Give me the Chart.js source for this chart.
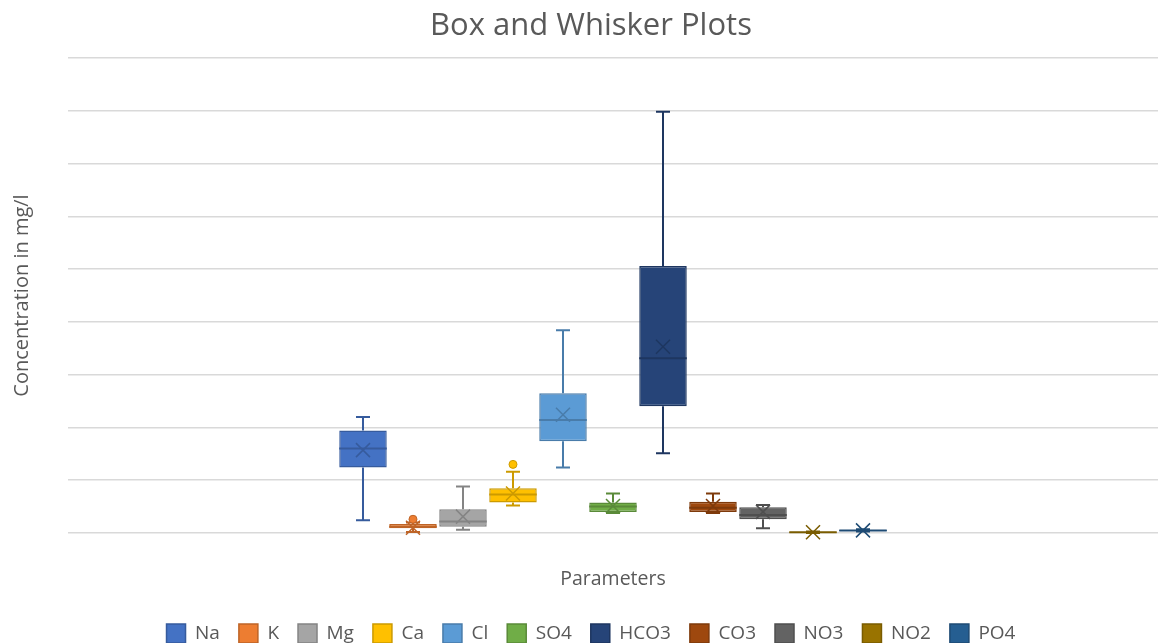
<!DOCTYPE html>
<html>
<head>
<meta charset="utf-8">
<script src="https://cdn.jsdelivr.net/npm/chart.js@4"></script>
<style>
  html, body { margin: 0; padding: 0; background: #ffffff; }
  #wrap { width: 1158px; height: 643px; }
</style>
</head>
<body>
<div id="wrap"><canvas id="c"></canvas></div>
<script>
// Water quality parameters (mg/l): five-number summary, mean and outliers
const parameters = ['Na', 'K', 'Mg', 'Ca', 'Cl', 'SO4', 'HCO3', 'CO3', 'NO3', 'NO2', 'PO4'];
const minimum   = [12,   1,   3,    26,   62,    19,   75.5,  19,   4.5,  0,    1.5];
const quartile1 = [62,   4.5, 6,    29,   87,    20,   120,   20,   13,   0.3,  2];
const median    = [80,   6,   11,   36.5, 107,   25,   165.5, 24,   17,   0.6,  2.3];
const quartile3 = [97,   8.5, 22.5, 42.5, 132.5, 29,   253,   29.5, 24.5, 1,    2.8];
const maximum   = [110,  10,  44,   58,   192,   37.5, 399,   37.5, 26.5, 1.5,  3.5];
const mean      = [78.5, 5,   15.5, 37.5, 112,   25.5, 176.5, 25.5, 20,   0.8,  2.5];
const outliers  = [[],   [13], [],  [65], [],    [],   [],    [],   [],   [],   []];

// Series colours (fill) and their darker line colours
const fillColors = ['#4472C4', '#ED7D31', '#A5A5A5', '#FFC000', '#5B9BD5', '#70AD47',
                    '#264478', '#9E480E', '#636363', '#997300', '#255E91'];
const lineColors = ['#365B9D', '#BE6427', '#848484', '#CC9A00', '#497CAA', '#5A8A39',
                    '#1E3660', '#7E3A0B', '#4F4F4F', '#7A5C00', '#1E4B74'];

const FONT = "'Open Sans', 'DejaVu Sans', sans-serif";
const TEXT = '#595959';

// Whiskers, caps, median line, mean cross and outlier dots drawn over the IQR bars
const boxWhiskerPlugin = {
  id: 'boxWhisker',
  afterDatasetsDraw(chart) {
    const ctx = chart.ctx;
    const ys = chart.scales.y;
    chart.data.datasets.forEach((ds, i) => {
      if (!chart.isDatasetVisible(i)) return;
      const bar = chart.getDatasetMeta(i).data[0];
      const x = bar.x;
      const half = bar.width / 2;
      const cap = 7;
      const yMin = ys.getPixelForValue(minimum[i]);
      const yQ1 = ys.getPixelForValue(quartile1[i]);
      const yMed = ys.getPixelForValue(median[i]);
      const yQ3 = ys.getPixelForValue(quartile3[i]);
      const yMax = ys.getPixelForValue(maximum[i]);
      const yMean = ys.getPixelForValue(mean[i]);
      ctx.save();
      ctx.strokeStyle = lineColors[i];
      ctx.lineWidth = 2;
      ctx.lineCap = 'butt';
      ctx.beginPath();
      // upper whisker + cap
      ctx.moveTo(x, yQ3); ctx.lineTo(x, yMax);
      ctx.moveTo(x - cap, yMax); ctx.lineTo(x + cap, yMax);
      // lower whisker + cap
      ctx.moveTo(x, yQ1); ctx.lineTo(x, yMin);
      ctx.moveTo(x - cap, yMin); ctx.lineTo(x + cap, yMin);
      // median
      ctx.moveTo(x - half, yMed); ctx.lineTo(x + half, yMed);
      ctx.stroke();
      // mean marker
      ctx.lineWidth = 1.5;
      ctx.beginPath();
      ctx.moveTo(x - 7, yMean - 7); ctx.lineTo(x + 7, yMean + 7);
      ctx.moveTo(x - 7, yMean + 7); ctx.lineTo(x + 7, yMean - 7);
      ctx.stroke();
      // outliers
      ctx.fillStyle = fillColors[i];
      outliers[i].forEach(v => {
        const yo = ys.getPixelForValue(v);
        ctx.beginPath();
        ctx.arc(x, yo, 4, 0, Math.PI * 2);
        ctx.fill();
        ctx.lineWidth = 1;
        ctx.stroke();
      });
      ctx.restore();
    });
  }
};

const datasets = parameters.map((name, i) => ({
  label: name,
  data: [[quartile1[i], quartile3[i]]],
  backgroundColor: fillColors[i],
  borderColor: lineColors[i],
  borderWidth: 1.5,
  borderSkipped: false,
  categoryPercentage: 0.5046,
  barPercentage: 0.95
}));

new Chart(document.getElementById('c'), {
  type: 'bar',
  data: { labels: [''], datasets },
  plugins: [boxWhiskerPlugin],
  options: {
    responsive: true,
    maintainAspectRatio: false,
    animation: false,
    layout: { padding: { left: 24, right: 0, top: 0, bottom: 0 } },
    plugins: {
      tooltip: { enabled: false },
      title: {
        display: true,
        text: 'Box and Whisker Plots',
        color: TEXT,
        font: { family: FONT, size: 31, weight: 'normal' },
        padding: { top: 8, bottom: 12.8 }
      },
      legend: {
        position: 'bottom',
        maxHeight: 38,
        labels: {
          color: TEXT,
          font: { family: FONT, size: 19 },
          boxWidth: 19,
          boxHeight: 19,
          padding: 19
        }
      }
    },
    scales: {
      x: {
        grid: { display: false },
        border: { display: false },
        ticks: { display: false },
        title: {
          display: true,
          text: 'Parameters',
          color: TEXT,
          font: { family: FONT, size: 19.5 },
          padding: { top: 0, bottom: 14.3 }
        },
        afterFit(scale) { scale.height = 72; }
      },
      y: {
        min: 0,
        max: 450,
        ticks: { display: false, stepSize: 50 },
        grid: { color: '#d9d9d9', lineWidth: 1.5, drawTicks: false },
        border: { display: false },
        title: {
          display: true,
          text: 'Concentration in mg/l',
          color: TEXT,
          font: { family: FONT, size: 20 },
          padding: { top: -14, bottom: 0 }
        },
        afterFit(scale) { scale.width = 44; }
      }
    }
  }
});
</script>
</body>
</html>
